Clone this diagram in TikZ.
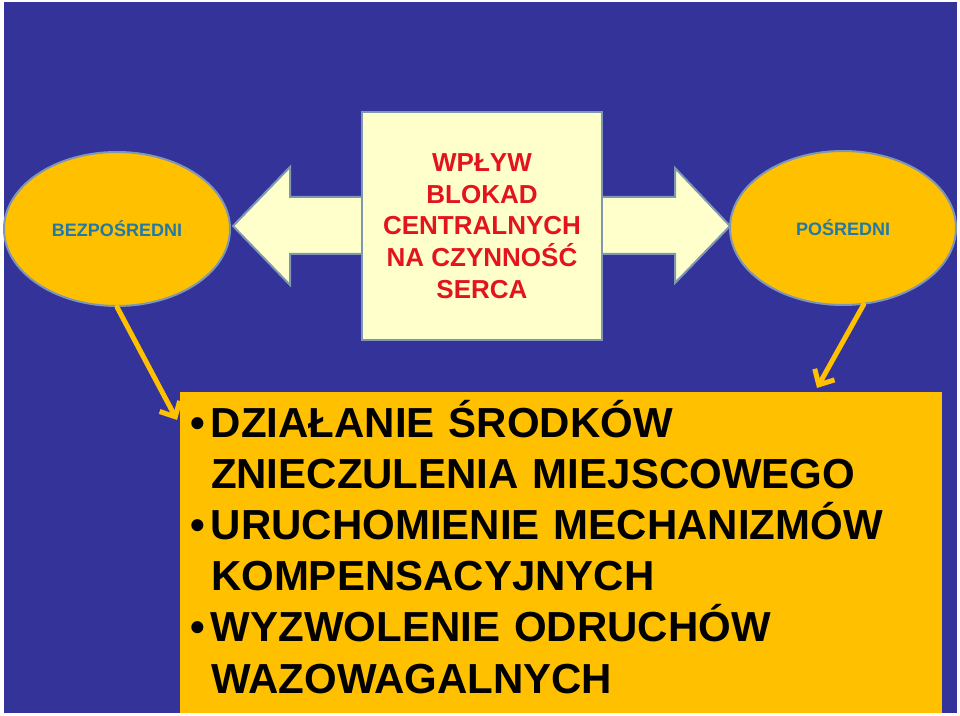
\documentclass[tikz,border=0pt]{standalone}
\usepackage{fontspec}
\setmainfont{Liberation Sans}
\usepackage{tikz}
\usetikzlibrary{arrows.meta,positioning,shapes.geometric}
\definecolor{tlo}{HTML}{333399}
\definecolor{zloty}{HTML}{FFC000}
\definecolor{kremowy}{HTML}{FFFFCC}
\definecolor{obrys}{HTML}{8097B3}
\definecolor{czerwony}{HTML}{E2141E}
\definecolor{morski}{HTML}{2379A6}
\newcommand{\punkt}{\leavevmode\llap{\textbullet\hspace{4pt}}}

\begin{document}
\begin{tikzpicture}[
  x=0.75pt, y=-0.75pt,
  owal/.style={ellipse, draw=obrys, line width=1.5pt, fill=zloty, inner sep=0pt,
               minimum width=169.5pt, minimum height=115.5pt,
               font=\bfseries\fontsize{13.5}{16}\selectfont, text=morski},
  ramka/.style={draw=obrys, line width=1.5pt, fill=kremowy, minimum width=180pt,
                minimum height=171pt, align=center, text=czerwony,
                font=\bfseries\fontsize{19.5}{23.8}\selectfont},
  lista/.style={fill=zloty, minimum width=571.5pt, minimum height=240.75pt,
                text width=525pt, inner xsep=23.25pt, inner ysep=0pt, align=left,
                font=\bfseries\fontsize{31.5}{38.4}\selectfont},
  strzalka/.style={zloty, line width=3.75pt, line cap=round,
                   -{Straight Barb[length=9pt,width=17pt]}}
]
  % background
  \useasboundingbox[fill=white] (0,0) rectangle (960,716);
  \fill[tlo] (4,2) rectangle (957,713);

  % double arrow behind the middle box
  \draw[obrys, line width=1.5pt, fill=kremowy]
    (233,226) -- (290,167) -- (290,197) -- (675,197) -- (675,168) -- (730,226)
    -- (675,283) -- (675,254) -- (290,254) -- (290,285) -- cycle;

  % middle box
  \node[ramka] (wplyw) at (482,226) {WPŁYW\\BLOKAD\\CENTRALNYCH\\NA CZYNNOŚĆ\\SERCA};

  % ovals
  \node[owal] (bezp) at (117,229) {BEZPOŚREDNI};
  \node[owal] (posr) at (843,228) {POŚREDNI};

  % list of effects
  \node[lista] (skutki) at (561,552.5) {%
    \punkt DZIAŁANIE ŚRODKÓW\\ZNIECZULENIA MIEJSCOWEGO\\
    \punkt URUCHOMIENIE MECHANIZMÓW\\KOMPENSACYJNYCH\\
    \punkt WYZWOLENIE ODRUCHÓW\\WAZOWAGALNYCH\rule[-9pt]{0pt}{0pt}};

  % arrows into the list
  \coordinate (grotL) at (177,420);
  \coordinate (grotP) at (817,388);
  \draw[strzalka] (bezp.south) -- (grotL);
  \draw[strzalka] (posr.285) -- (grotP);

\end{tikzpicture}
\end{document}
